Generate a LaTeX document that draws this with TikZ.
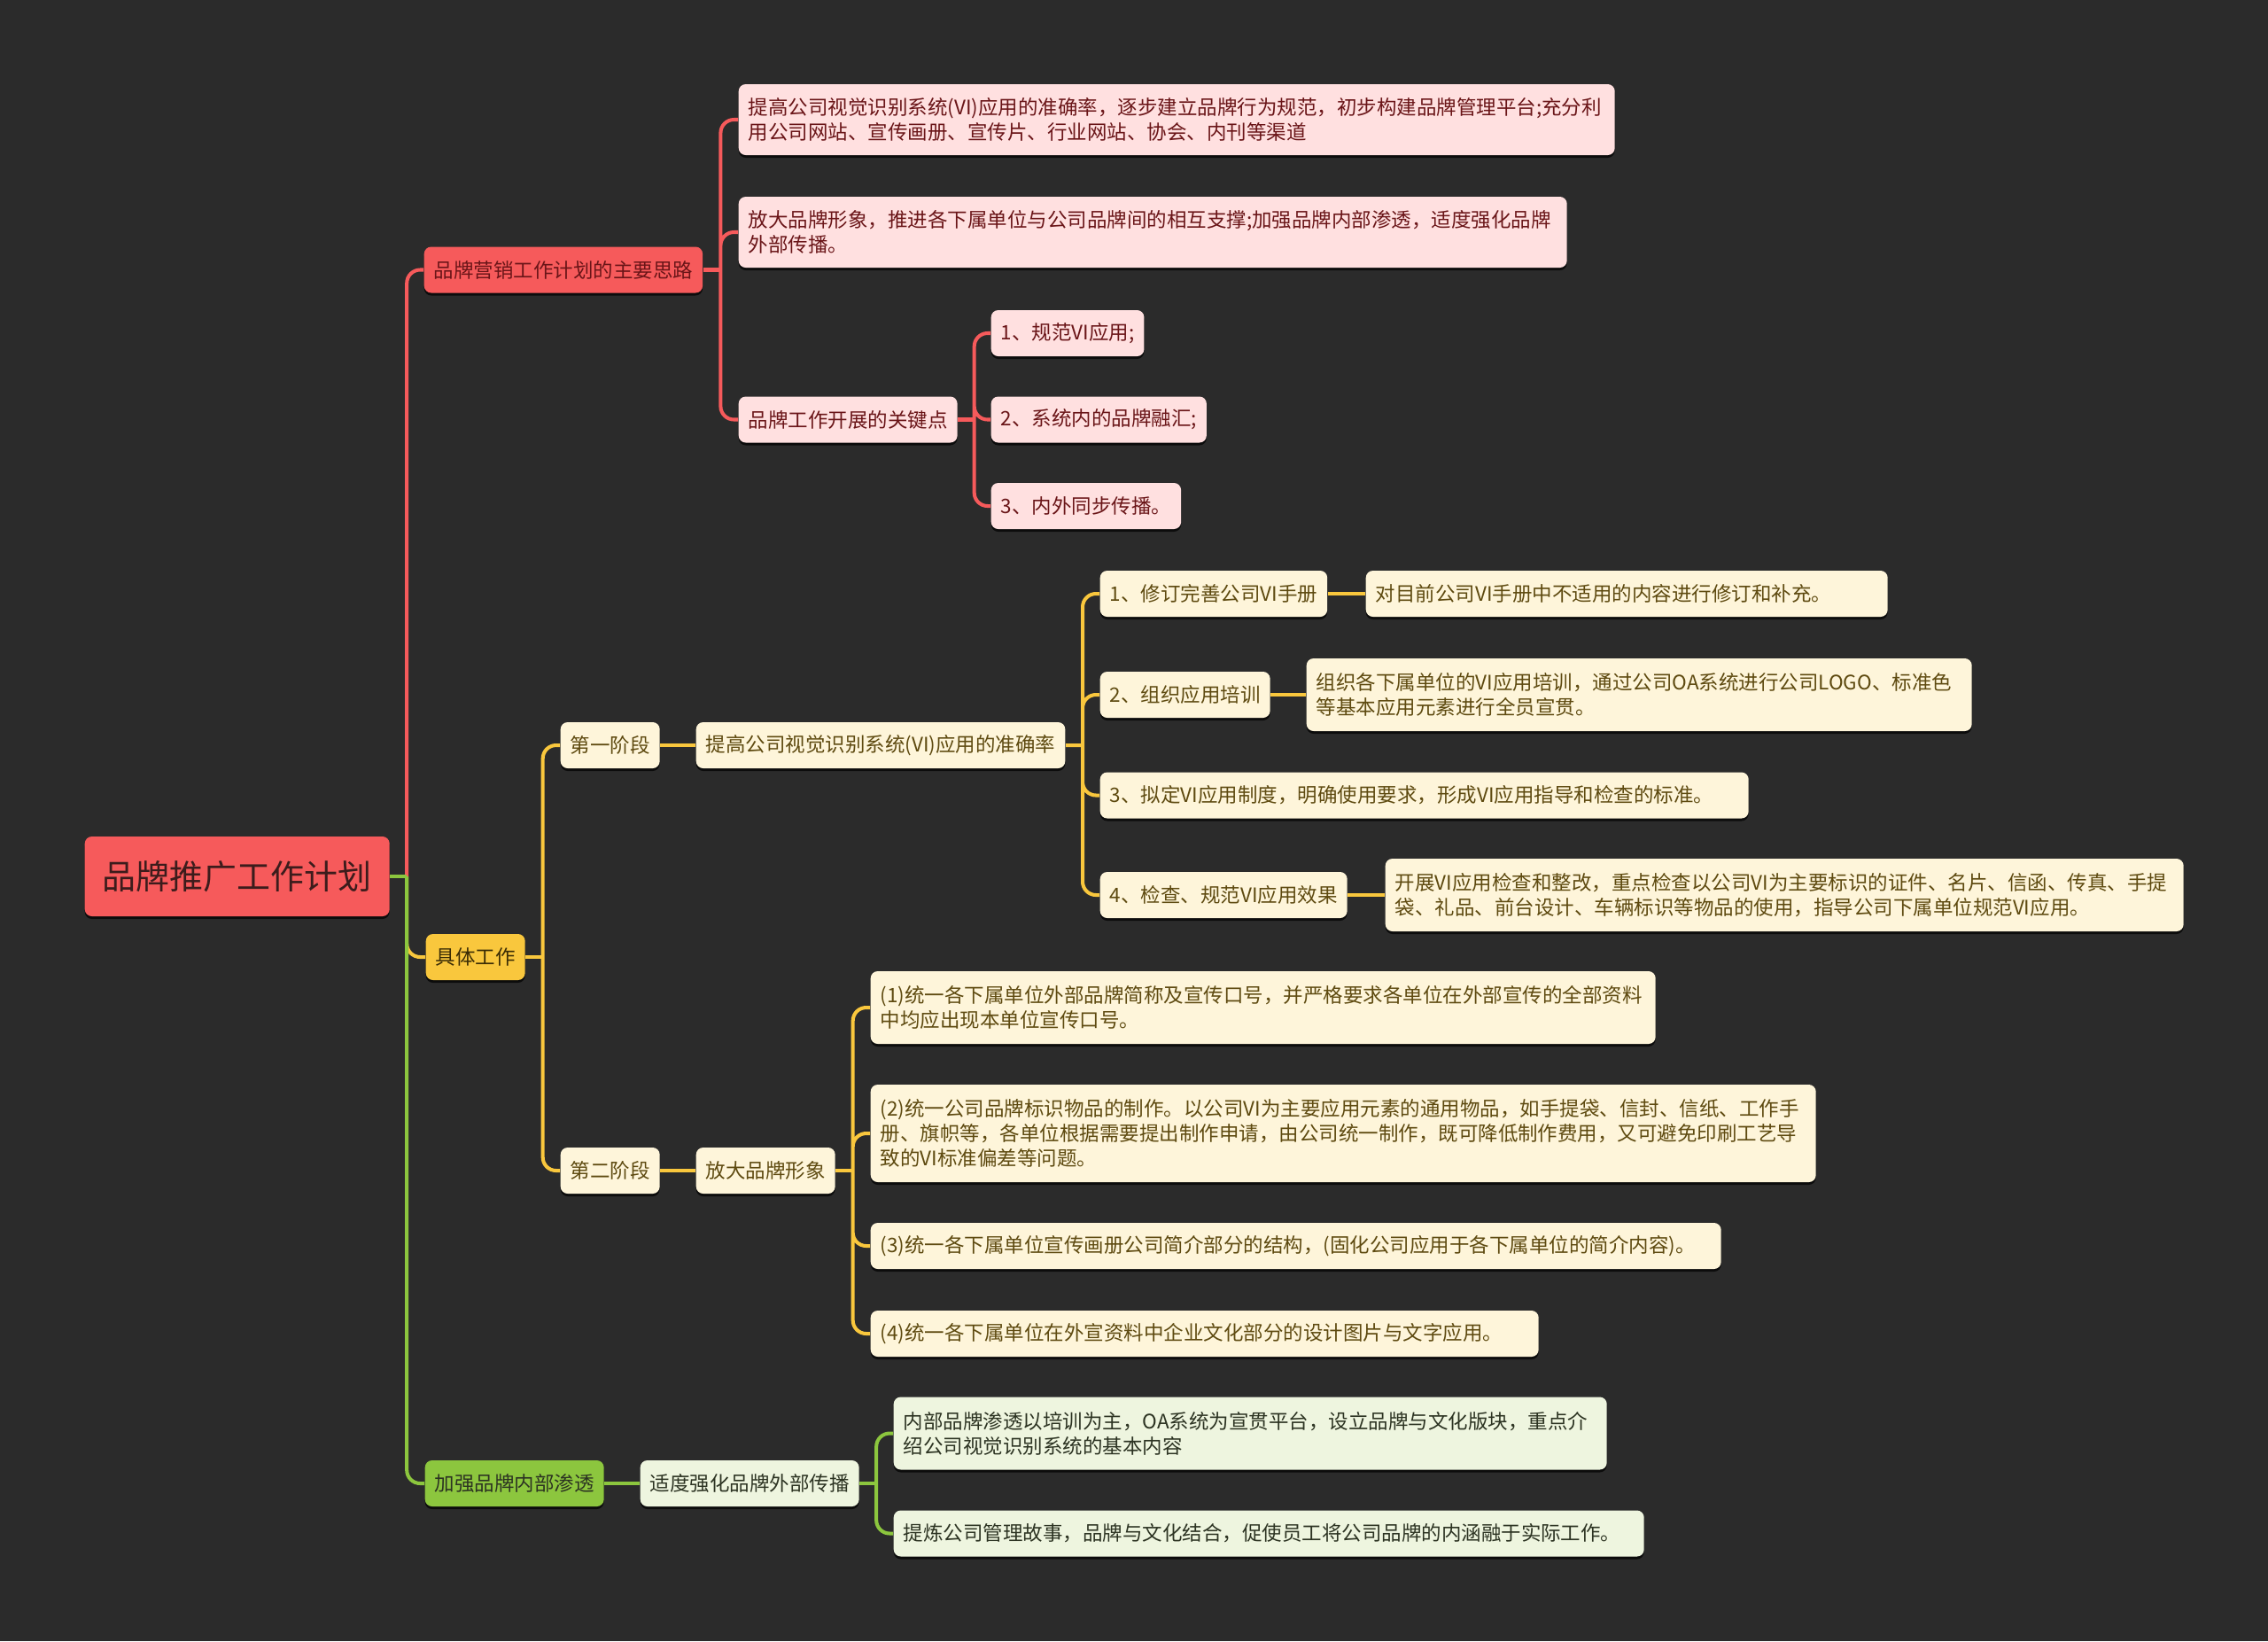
\documentclass[tikz,border=0pt]{standalone}
\usepackage{fontspec}
\newfontfamily\cjk{Noto Sans CJK SC}
\usetikzlibrary{shadows,calc}

\definecolor{bg}{HTML}{2B2B2B}
\definecolor{brandred}{HTML}{F65A5B}
\definecolor{palered}{HTML}{FFE0E0}
\definecolor{redtext}{HTML}{6A1518}
\definecolor{roottext}{HTML}{3C1C1C}
\definecolor{brandyellow}{HTML}{F9C73D}
\definecolor{paleyellow}{HTML}{FEF5DA}
\definecolor{yellowtext}{HTML}{5E4A10}
\definecolor{worktext}{HTML}{3A2C05}
\definecolor{brandgreen}{HTML}{8CC63E}
\definecolor{palegreen}{HTML}{EEF5DF}
\definecolor{greentext}{HTML}{2C3322}

\tikzset{
  box/.style={anchor=west, rounded corners=0.08cm, inner xsep=0.11cm, inner ysep=0pt,
    minimum height=0.52cm, align=left, font=\cjk\fontsize{6.4}{7.97}\selectfont,
    drop shadow={shadow xshift=0pt, shadow yshift=-0.03cm, opacity=0.7, fill=black}},
  rootbox/.style={box, fill=brandred, text=roottext, align=center, minimum width=3.44cm,
    minimum height=0.90cm, font=\cjk\fontsize{10.8}{12}\selectfont},
  redmain/.style={box, fill=brandred, text=redtext},
  redsub/.style={box, fill=palered, text=redtext},
  yellowmain/.style={box, fill=brandyellow, text=worktext},
  yellowsub/.style={box, fill=paleyellow, text=yellowtext},
  greenmain/.style={box, fill=brandgreen, text=greentext},
  greensub/.style={box, fill=palegreen, text=greentext},
  redline/.style={draw=brandred, line width=1.15pt, rounded corners=0.15cm},
  yellowline/.style={draw=brandyellow, line width=1.15pt, rounded corners=0.15cm},
  greenline/.style={draw=brandgreen, line width=1.15pt, rounded corners=0.15cm},
}

\begin{document}
\begin{tikzpicture}
\path[use as bounding box, fill=bg] (0,0) rectangle (25.6,-18.52);

\node[rootbox] (root) at (0.95,-9.89) {品牌推广工作计划};

% red branch
\node[redmain] (idea) at (4.78,-3.045) {品牌营销工作计划的主要思路};
\node[redsub, text width=9.67cm, minimum height=0.80cm] (ideaA) at (8.33,-1.35) {提高公司视觉识别系统(VI)应用的准确率，逐步建立品牌行为规范，初步构建品牌管理平台;充分利\\用公司网站、宣传画册、宣传片、行业网站、协会、内刊等渠道};
\node[redsub, text width=9.13cm, minimum height=0.80cm] (ideaB) at (8.33,-2.62) {放大品牌形象，推进各下属单位与公司品牌间的相互支撑;加强品牌内部渗透，适度强化品牌\\外部传播。};
\node[redsub] (keys) at (8.33,-4.735) {品牌工作开展的关键点};
\node[redsub] (key1) at (11.18,-3.76) {1、规范VI应用;};
\node[redsub] (key2) at (11.18,-4.735) {2、系统内的品牌融汇;};
\node[redsub] (key3) at (11.18,-5.71) {3、内外同步传播。};

% yellow branch
\node[yellowmain] (work) at (4.80,-10.80) {具体工作};
\node[yellowsub] (stage1) at (6.32,-8.41) {第一阶段};
\node[yellowsub] (goal1) at (7.85,-8.41) {提高公司视觉识别系统(VI)应用的准确率};
\node[yellowsub] (step1) at (12.41,-6.70) {1、修订完善公司VI手册};
\node[yellowsub, text width=5.67cm] (note1) at (15.41,-6.70) {对目前公司VI手册中不适用的内容进行修订和补充。};
\node[yellowsub] (step2) at (12.41,-7.84) {2、组织应用培训};
\node[yellowsub, text width=7.29cm, minimum height=0.82cm] (note2) at (14.74,-7.84) {组织各下属单位的VI应用培训，通过公司OA系统进行公司LOGO、标准色\\等基本应用元素进行全员宣贯。};
\node[yellowsub, text width=7.10cm] (step3) at (12.41,-8.975) {3、拟定VI应用制度，明确使用要求，形成VI应用指导和检查的标准。};
\node[yellowsub] (step4) at (12.41,-10.10) {4、检查、规范VI应用效果};
\node[yellowsub, text width=8.79cm, minimum height=0.82cm] (note4) at (15.63,-10.10) {开展VI应用检查和整改，重点检查以公司VI为主要标识的证件、名片、信函、传真、手提\\袋、礼品、前台设计、车辆标识等物品的使用，指导公司下属单位规范VI应用。};
\node[yellowsub] (stage2) at (6.32,-13.21) {第二阶段};
\node[yellowsub] (image) at (7.85,-13.21) {放大品牌形象};
\node[yellowsub, text width=8.64cm, minimum height=0.82cm] (item1) at (9.82,-11.37) {(1)统一各下属单位外部品牌简称及宣传口号，并严格要求各单位在外部宣传的全部资料\\中均应出现本单位宣传口号。};
\node[yellowsub, text width=10.45cm, minimum height=1.10cm] (item2) at (9.82,-12.79) {(2)统一公司品牌标识物品的制作。以公司VI为主要应用元素的通用物品，如手提袋、信封、信纸、工作手\\册、旗帜等，各单位根据需要提出制作申请，由公司统一制作，既可降低制作费用，又可避免印刷工艺导\\致的VI标准偏差等问题。};
\node[yellowsub, text width=9.38cm] (item3) at (9.82,-14.06) {(3)统一各下属单位宣传画册公司简介部分的结构，(固化公司应用于各下属单位的简介内容)。};
\node[yellowsub, text width=7.32cm] (item4) at (9.82,-15.05) {(4)统一各下属单位在外宣资料中企业文化部分的设计图片与文字应用。};

% green branch
\node[greenmain] (inner) at (4.79,-16.74) {加强品牌内部渗透};
\node[greensub] (outer) at (7.22,-16.74) {适度强化品牌外部传播};
\node[greensub, text width=7.83cm, minimum height=0.82cm] (push1) at (10.08,-16.175) {内部品牌渗透以培训为主，OA系统为宣贯平台，设立品牌与文化版块，重点介\\绍公司视觉识别系统的基本内容};
\node[greensub, text width=8.25cm] (push2) at (10.08,-17.305) {提炼公司管理故事，品牌与文化结合，促使员工将公司品牌的内涵融于实际工作。};

% bus points between parent and child column
\coordinate (rootbus) at ($(root.east)!0.5!(root.east -| idea.west)$);
\coordinate (ideabus) at ($(idea.east)!0.5!(idea.east -| ideaA.west)$);
\coordinate (keysbus) at ($(keys.east)!0.5!(keys.east -| key1.west)$);
\coordinate (workbus) at ($(work.east)!0.5!(work.east -| stage1.west)$);
\coordinate (goalbus) at ($(goal1.east)!0.5!(goal1.east -| step1.west)$);
\coordinate (imagebus) at ($(image.east)!0.5!(image.east -| item1.west)$);
\coordinate (outerbus) at ($(outer.east)!0.5!(outer.east -| push1.west)$);

% red connectors
\draw[redline] (rootbus) |- (idea.west);
\draw[redline] (idea.east) -- (ideabus);
\draw[redline] (ideabus) |- (ideaA.west) (ideabus) |- (ideaB.west) (ideabus) |- (keys.west);
\draw[redline] (keys.east) -- (keysbus);
\draw[redline] (keysbus) |- (key1.west) (keysbus) |- (key2.west) (keysbus) |- (key3.west);

% yellow connectors
\draw[yellowline] (rootbus) |- (work.west);
\draw[yellowline] (work.east) -- (workbus);
\draw[yellowline] (workbus) |- (stage1.west) (workbus) |- (stage2.west);
\draw[yellowline] (stage1) -- (goal1) (stage2) -- (image);
\draw[yellowline] (goal1.east) -- (goalbus);
\draw[yellowline] (goalbus) |- (step1.west) (goalbus) |- (step2.west) (goalbus) |- (step3.west) (goalbus) |- (step4.west);
\draw[yellowline] (step1) -- (note1) (step2) -- (note2) (step4) -- (note4);
\draw[yellowline] (image.east) -- (imagebus);
\draw[yellowline] (imagebus) |- (item1.west) (imagebus) |- (item2.west) (imagebus) |- (item3.west) (imagebus) |- (item4.west);

% green connectors
\draw[greenline] (rootbus) |- (inner.west);
\draw[greenline] (root.east) -- (rootbus);
\draw[greenline] (inner) -- (outer);
\draw[greenline] (outer.east) -- (outerbus);
\draw[greenline] (outerbus) |- (push1.west) (outerbus) |- (push2.west);
\end{tikzpicture}
\end{document}
